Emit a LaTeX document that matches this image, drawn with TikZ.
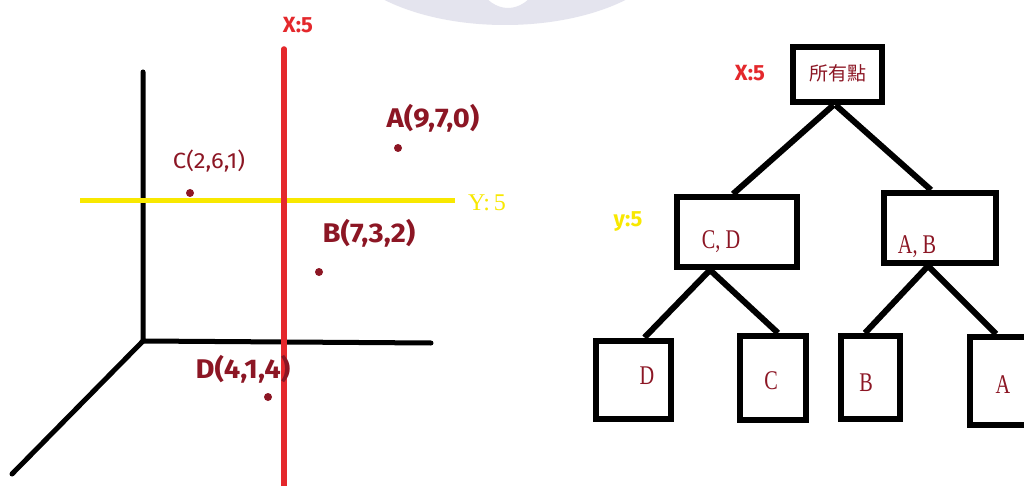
\documentclass[tikz,border=0pt]{standalone}
\usepackage{fontspec}
\setmainfont{Liberation Serif}
\newfontfamily\cjkfont{Noto Sans CJK SC}
\newfontfamily\handfont{Fira Sans}
\definecolor{ptred}{RGB}{140,22,36}
\definecolor{xred}{RGB}{228,40,44}
\definecolor{ylw}{RGB}{248,232,0}
\definecolor{wmark}{RGB}{228,228,238}
\begin{document}
\begin{tikzpicture}[x=1pt,y=-1pt,
  axis/.style={line width=5pt,line cap=round},
  conn/.style={line width=6pt},
  tbox/.style={draw,line width=6pt,inner sep=0pt},
  pt/.style={circle,fill=ptred,inner sep=0pt,minimum size=8pt},
  plab/.style={text=ptred,font=\handfont\bfseries\fontsize{27}{27}\selectfont,inner sep=0pt,xscale=1.08},
  tlab/.style={text=ptred,font=\fontsize{27}{27}\selectfont,inner sep=0pt,xscale=0.75},
  cutlab/.style={font=\handfont\bfseries\fontsize{22}{22}\selectfont,inner sep=0pt}]
\useasboundingbox[fill=white] (0,0) rectangle (1024,486);
% watermark
\fill[wmark,even odd rule] (505,-60) ellipse [x radius=170,y radius=85]
  (508,-60) ellipse [x radius=42,y radius=68];
% axes
\coordinate (O) at (143,341);
\coordinate (Ztop) at (143,72);
\coordinate (Xend) at (431,343);
\coordinate (Yend) at (12,474);
\draw[axis] (Ztop) -- (O) -- (Xend);
\draw[axis] (O) -- (Yend);
% cut lines
\coordinate (ys) at (80,201);
\coordinate (ye) at (455,201);
\draw[axis,ylw,line cap=butt] (ys) -- (ye);
\coordinate (xs) at (284,49);
\coordinate (xe) at (284,486);
\draw[axis,xred,line width=5.5pt] (xs) -- (xe);
\node[cutlab,text=xred] (xlab) at (298,25) {X:5};
\node[cutlab,text=ylw,font=\fontsize{24}{24}\selectfont] (ylab) at (487,203) {Y:\,5};
% points
\node[pt] (A) at (398,148) {};
\node[pt] (C) at (190,193) {};
\node[pt] (B) at (319,272) {};
\node[pt] (D) at (268,397) {};
\node[plab] (Al) at (433,118) {A(9,7,0)};
\node[plab,font=\handfont\fontsize{22}{22}\selectfont] (Cl) at (209,161) {C(2,6,1)};
\node[plab] (Bl) at (369,233) {B(7,3,2)};
\node[plab] (Dl) at (243,369) {D(4,1,4)};
% tree
\node[tbox,minimum width=89pt,minimum height=55pt] (root) at (837.5,74.5) {};
\node[text=ptred,font=\cjkfont\fontsize{19}{19}\selectfont] (rootl) at (838,73) {所有點};
\node[cutlab,text=xred] (xlab2) at (750,73) {X:5};
\node[cutlab,text=ylw] (ylab2) at (628,222) {y:5};
\node[tbox,minimum width=120pt,minimum height=70pt] (cd) at (737,232) {};
\node[tlab] (cdl) at (721,242) {C, D};
\node[tbox,minimum width=112pt,minimum height=70pt] (ab) at (940,228) {};
\node[tlab] (abl) at (917,247) {A, B};
\node[tbox,minimum width=75pt,minimum height=78pt] (d) at (633.5,379.5) {};
\node[tlab] (dl) at (647,376) {D};
\node[tbox,minimum width=66pt,minimum height=84pt] (c) at (773,378) {};
\node[tlab] (cl) at (771,381) {C};
\node[tbox,minimum width=59pt,minimum height=83pt] (b) at (870,377.5) {};
\node[tlab] (bl) at (866,383) {B};
\node[tbox,minimum width=80pt,minimum height=88pt] (a) at (1010,381) {};
\node[tlab] (al) at (1003,385) {A};
% connectors
\draw[conn] ([xshift=-4pt]root.south) -- ([xshift=-4pt]cd.north);
\draw[conn] ([xshift=-2pt]root.south) -- ([xshift=-9pt]ab.north);
\draw[conn] ([xshift=-27pt]cd.south) -- ([xshift=11pt]d.north);
\draw[conn] ([xshift=-27pt]cd.south) -- ([xshift=5pt]c.north);
\draw[conn] ([xshift=-12pt]ab.south) -- ([xshift=-5pt]b.north);
\draw[conn] ([xshift=-12pt]ab.south) -- ([xshift=-14pt]a.north);
\end{tikzpicture}
\end{document}
